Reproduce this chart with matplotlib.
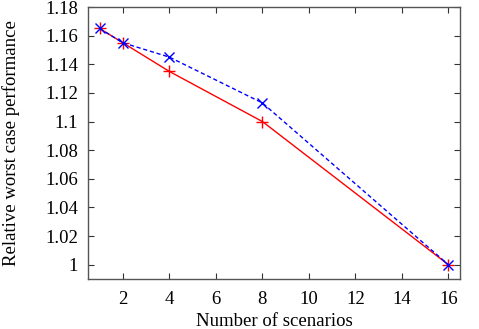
import matplotlib
matplotlib.use("Agg")
import matplotlib.pyplot as plt

# Daten
scenarios = [1, 2, 4, 8, 16]
perf_red = [1.165, 1.155, 1.135, 1.100, 1.000]
perf_blue = [1.165, 1.155, 1.145, 1.113, 1.000]

plt.rcParams['font.family'] = ['Liberation Serif', 'DejaVu Serif']

fig = plt.figure(figsize=(4.79, 3.29), dpi=100)
ax = fig.add_axes([0.1837, 0.152, 0.7766, 0.8267])

ax.plot(scenarios, perf_red, color='#ff0000', lw=1.0, marker='+', ms=8, mew=1.0)
ax.plot(scenarios, perf_blue, color='#0000ff', lw=1.0, ls=(0, (3, 2)), marker='x', ms=7, mew=1.0)

ax.set_xlim(0.5, 16.5)
ax.set_ylim(0.99, 1.18)
ax.set_xticks(range(2, 17, 2))
ax.set_yticks([1 + 0.02 * i for i in range(10)])
ax.set_yticklabels(['1', '1.02', '1.04', '1.06', '1.08', '1.1', '1.12', '1.14', '1.16', '1.18'])
ax.tick_params(direction='in', top=True, right=True, labelsize=13.5, length=4, width=0.8,
               colors='#333333', labelcolor='black')
ax.tick_params(axis='x', pad=9)
ax.tick_params(axis='y', pad=7)
for s in ax.spines.values():
    s.set_color('#555555')
    s.set_linewidth(1.0)

ax.set_xlabel('Number of scenarios', fontsize=13.5, labelpad=3)
ax.set_ylabel('Relative worst case performance', fontsize=13.5, labelpad=18)

fig.savefig('out.png', dpi=100)
